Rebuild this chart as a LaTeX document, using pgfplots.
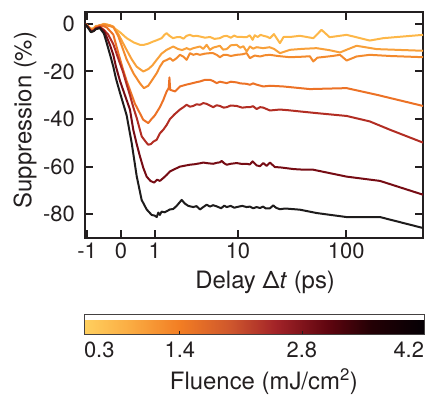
\documentclass[border=0pt]{standalone}
\usepackage{fontspec}
\setmainfont{TeX Gyre Heros}
\usepackage{pgfplots}
\usepackage{pgfplotstable}
\pgfplotsset{compat=1.18}
\pgfplotsset{/pgf/number format/assume math mode=true}
\definecolor{c1}{RGB}{253,183,72}
\definecolor{c2}{RGB}{248,160,58}
\definecolor{c3}{RGB}{243,138,45}
\definecolor{c4}{RGB}{236,114,38}
\definecolor{c5}{RGB}{178,45,35}
\definecolor{c6}{RGB}{118,12,20}
\definecolor{c7}{RGB}{30,28,28}
\definecolor{axc}{RGB}{35,31,32}
\pgfplotsset{colormap={fluence}{rgb255(3pt)=(255,208,95) rgb255(8.5pt)=(250,170,65) rgb255(14pt)=(242,125,35) rgb255(20pt)=(205,85,45) rgb255(25pt)=(162,35,40) rgb255(31pt)=(95,5,15) rgb255(36pt)=(35,0,5) rgb255(42pt)=(5,0,5)}}
% delay t (ps), suppression (%)
\pgfplotstableread{
t s
-1.09 0
-0.97 -1
-0.85 -2
-0.75 -1.8
-0.67 -0.8
-0.54 -1.1
-0.42 -0.2
-0.34 -0.4
-0.25 -0.6
-0.17 -1.5
-0.02 -3.5
0.124 -6
0.3 -7.8
0.476 -8.8
0.6 -8.8
0.75 -8.3
0.94 -7.4
1.1 -6.8
1.3 -6
1.45 -4.5
1.55 -3.9
1.7 -5
1.9 -6
2.13 -5.6
2.35 -5.5
2.6 -6.2
2.84 -5
3.11 -4.6
3.4 -5.2
3.7 -5
4.05 -5.3
4.6 -5.8
5.2 -5.5
5.8 -6.3
6.6 -6
7.2 -5.2
7.73 -5
8.5 -5.8
9.2 -4.9
9.71 -5.4
11 -5.5
12.14 -5.6
13 -4.8
13.86 -6.7
14.5 -4.8
15.5 -5.5
16.5 -4.6
17.5 -5
19 -5.4
20.18 -6
22 -4.3
25 -8.1
27 -5.5
31 -5.5
38.17 -5
50.5 -6
60 -2.5
71 -5.6
101 -4.6
163 -7
215 -6
487 -4.6
}\dA
\pgfplotstableread{
t s
-1.09 0
-0.97 -1
-0.85 -2.3
-0.75 -2
-0.67 -1
-0.54 -0.6
-0.42 0
-0.34 -0.2
-0.25 -0.6
-0.17 -1.1
-0.05 -4.5
0.124 -11
0.25 -15
0.38 -18
0.58 -20
0.75 -19
0.9 -17.5
1.08 -15.1
1.3 -12.5
1.55 -10.9
1.92 -9.5
2.2 -10.5
2.5 -11
2.84 -10.2
3.11 -10.8
3.4 -10.2
4.05 -9.5
4.4 -10.5
4.79 -8.8
5.2 -10.9
5.6 -10
6.6 -9.2
7.1 -10.8
7.73 -10.6
8.5 -9
9.71 -8.8
10.5 -10
11.3 -9.4
12.14 -11.6
13.06 -9.5
14 -10.4
15.13 -9.8
17.47 -10.2
20 -9.8
22 -10.5
25 -12.3
31 -10.9
40 -10.5
54 -10.2
70 -11
88 -12
124 -9.2
188 -10.6
487 -11.3
}\dB
\pgfplotstableread{
t s
-1.09 0
-0.97 -1
-0.85 -2.5
-0.75 -2.3
-0.67 -1.2
-0.54 -0.5
-0.42 -0.3
-0.3 -0.8
-0.17 -1.3
-0.06 -5
0.124 -15
0.3 -21
0.476 -25
0.6 -27
0.75 -26
0.9 -23.5
1.08 -20.7
1.22 -18
1.38 -15.8
1.6 -15
1.73 -14.4
1.9 -15.5
2.13 -14.4
2.35 -13
2.6 -13.8
2.84 -15.1
3.11 -12.3
3.4 -13
3.7 -12.6
4.05 -13
4.6 -12.5
5.2 -12.3
5.6 -12.3
6.11 -13
6.6 -14
7.2 -13
7.73 -13
8.5 -13.5
9.71 -13
11 -12.8
12.14 -12.3
13.06 -14.4
14.5 -13.3
16.3 -13.7
18 -13.2
20.18 -13
24 -13.5
30.9 -14
40 -13.8
47 -13.6
50.5 -15.8
55 -14.2
75 -13.5
88 -13
101 -15.4
124 -13.7
163 -13
250 -13.5
487 -14
}\dC
\pgfplotstableread{
t s
-1.09 0
-0.97 -1
-0.85 -2.8
-0.75 -2.5
-0.67 -1.5
-0.54 -0.8
-0.42 -1
-0.34 -1.5
-0.25 -3
-0.17 -4.5
-0.06 -12
0.04 -19
0.124 -24
0.33 -33.5
0.579 -40.3
0.75 -41.7
0.87 -40
1.0 -38.5
1.22 -35
1.38 -32
1.55 -28.4
1.66 -27
1.70 -22.5
1.74 -27.7
2.03 -28.4
2.35 -26.3
2.84 -25.5
3.11 -25.2
3.7 -24.5
4.05 -24.2
4.6 -23.5
5.2 -23.5
5.6 -24
6.11 -24.9
6.6 -24.3
7.73 -24.9
8.5 -24.3
9.71 -24.6
10.5 -25
12.14 -25.2
13.06 -25.6
14 -25
15 -25.5
17.47 -26.3
20.18 -26
26.8 -26.3
47 -27.4
101 -27
188 -29.8
487 -34.5
}\dD
\pgfplotstableread{
t s
-1.09 0
-0.97 -1.2
-0.85 -3
-0.75 -2.8
-0.67 -1.8
-0.54 -1.3
-0.42 -2.5
-0.3 -4.5
-0.17 -8.5
-0.05 -15
0.04 -20
0.124 -25.5
0.202 -30
0.287 -35
0.38 -39.5
0.53 -47.3
0.69 -50
0.75 -50.8
0.85 -50.5
0.94 -49.5
1.08 -48.7
1.22 -46
1.38 -44.5
1.55 -42.5
1.73 -40
2.0 -38
2.35 -36
2.6 -35
2.84 -34
3.11 -34.8
3.4 -34.5
3.7 -33.8
4.05 -34
4.4 -33.3
4.79 -33.6
5.3 -34.5
5.63 -35
6.11 -34.2
6.6 -34.5
7.2 -35.2
7.73 -35
8.5 -34.3
9.71 -34.5
11 -35.2
12.14 -35
13.06 -35
14 -34.6
15.13 -35.8
16.3 -35
17.5 -35.2
18.8 -35.8
20.18 -36.4
24.99 -36
30 -36.3
38.17 -36.8
54 -37.5
101 -38.7
163 -41
247 -44.5
487 -49.9
}\dE
\pgfplotstableread{
t s
-1.09 0
-0.97 -1.5
-0.85 -3.2
-0.75 -3
-0.67 -2
-0.54 -1.5
-0.42 -3
-0.34 -5.5
-0.25 -9
-0.17 -13
-0.108 -18
-0.02 -24
0.085 -30
0.202 -36
0.287 -44.5
0.38 -50.5
0.476 -55.7
0.58 -60.5
0.693 -64.2
0.83 -66
0.97 -66.7
1.1 -65.5
1.22 -66
1.38 -64.8
1.55 -63.5
1.73 -62
2.02 -61
2.35 -60
2.8 -59.5
3.11 -59.2
3.5 -59
4.05 -58.6
4.4 -58.3
5.0 -58.6
5.63 -58.8
6.1 -58.4
6.6 -58.2
6.88 -57.6
7.3 -58.6
7.73 -59.2
8.5 -58.8
9.71 -58.5
11 -58.9
12.14 -58.8
13.0 -59.1
13.86 -57.8
15.13 -59.5
16.3 -59.8
17.5 -58.5
18.8 -59.7
20.18 -58.3
22.5 -60.2
25 -60.3
33 -61
38 -61.2
50.5 -61.3
101 -64.2
201 -66
487 -71.8
}\dF
\pgfplotstableread{
t s
-1.09 0
-0.97 -1.5
-0.85 -3.5
-0.75 -3
-0.67 -2.2
-0.54 -1.8
-0.42 -4
-0.34 -8
-0.25 -13
-0.17 -18
-0.108 -23
-0.02 -29
0.085 -36
0.124 -38.5
0.245 -50
0.38 -64
0.528 -74
0.693 -78
0.876 -80.3
1.0 -80.6
1.08 -81.2
1.15 -79.3
1.22 -80.3
1.30 -78.9
1.45 -79.2
1.73 -78
1.92 -77.8
2.13 -76.5
2.47 -74
2.7 -75.5
2.97 -76.5
3.4 -77
3.7 -76.6
4.05 -78
4.4 -77
4.79 -76
5.2 -76.8
5.6 -76.2
6.11 -76.7
6.8 -77.5
7.3 -76.4
7.73 -77
8.5 -76.5
9.2 -77.3
9.71 -77
11 -76.5
12.14 -77
13 -76.8
14 -77.5
15.13 -77
16.3 -77.4
17.4 -76.8
18.5 -77.6
20.2 -77.5
21.67 -76.3
23 -77.3
24.99 -77.9
28 -77.6
38.2 -78.1
54 -79.5
101 -81.2
201 -81.2
487 -85.8
}\dG
\newcommand{\symx}{ln(1+abs(\thisrow{t}))*(1-2*(\thisrow{t}<0))}
\begin{document}
\begin{tikzpicture}
\useasboundingbox (0,0) rectangle (428bp,397bp);
\begin{axis}[
  at={(85bp,159bp)}, anchor=south west,
  scale only axis, width=338bp, height=226bp,
  xmin=-0.7372, xmax=6.190, ymin=-90, ymax=5,
  xtick={-0.69315,0,0.69315,2.3979,4.6151},
  xticklabels={-1,0,1,10,100},
  ytick={-80,-60,-40,-20,0},
  yticklabels={-80,-60,-40,-20,0},
  minor tick num=0,
  tick align=inside,
  major tick length=8bp,
  every tick/.style={axc, line width=2bp},
  axis line style={axc, line width=2.4bp},
  tick label style={font=\fontsize{22}{22}\selectfont, text=axc},
  xticklabel style={inner sep=0pt, anchor=north, yshift=-5bp},
  yticklabel style={inner sep=0pt, anchor=east, xshift=-10bp},
  xlabel={Delay \symbol{"0394}\textit{t} (ps)},
  ylabel={Suppression (\%)},
  label style={font=\fontsize{24}{24}\selectfont, text=axc},
  xlabel style={inner sep=0pt, at={(axis description cs:0.533,0)}, anchor=north, yshift=-33bp},
  ylabel style={inner sep=0pt, at={(axis description cs:-0.1775,0.522)}, anchor=center},
  every axis plot/.append style={line width=2bp, line join=round},
  colormap name=fluence,
  point meta min=0.3, point meta max=4.2,
  colorbar horizontal,
  colorbar style={
    at={(parent axis.south west)}, anchor=north west,
    xshift=-1bp, yshift=-68bp,
    scale only axis, width=340bp, height=20bp,
    xmin=0.3, xmax=4.2,
    xtick={0.3,1.4,2.8,4.2},
    xticklabels={\makebox[0pt][l]{0.3},1.4,2.8,\makebox[0pt][r]{4.2}},
    xtick pos=left, xtick align=inside,
    major tick length=4bp,
    every tick/.style={axc, line width=0.8bp},
    ytick=\empty,
    axis line style={draw=axc!85, line width=1bp},
    xticklabel style={font=\fontsize{22}{22}\selectfont, text=axc, inner sep=0pt, anchor=north, yshift=-7bp},
    xlabel={Fluence (mJ/cm\textsuperscript{2})},
    xlabel style={font=\fontsize{24}{24}\selectfont, text=axc, inner sep=0pt, at={(axis description cs:0.529,0)}, anchor=north, yshift=-34bp},
  },
]
\addplot[c1] table[x expr={\symx}, y=s] {\dA};
\addplot[c2] table[x expr={\symx}, y=s] {\dB};
\addplot[c3] table[x expr={\symx}, y=s] {\dC};
\addplot[c4] table[x expr={\symx}, y=s] {\dD};
\addplot[c5] table[x expr={\symx}, y=s] {\dE};
\addplot[c6] table[x expr={\symx}, y=s] {\dF};
\addplot[c7] table[x expr={\symx}, y=s] {\dG};
\end{axis}
\end{tikzpicture}
\end{document}
